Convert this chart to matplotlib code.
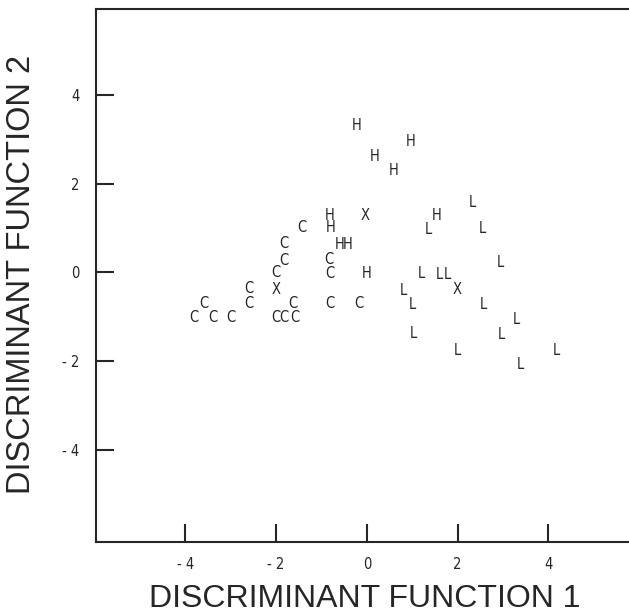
import matplotlib
matplotlib.use("Agg")
import matplotlib.pyplot as plt

# Data (discriminant function scores)
c_x = [-3.82, -3.60, -3.40, -3.00, -2.59, -2.59, -2.00, -1.82, -1.82, -1.43,
       -2.00, -1.82, -1.59, -1.62, -0.83, -0.81, -0.81, -0.18]
c_y = [-1.01, -0.69, -1.01, -1.01, -0.36, -0.69, 0.00, 0.27, 0.64, 1.00,
       -1.01, -1.01, -1.01, -0.71, 0.28, -0.03, -0.71, -0.71]

h_x = [-0.22, 0.96, 0.17, 0.60, -0.81, -0.79, -0.60, -0.42, -0.01, 1.53]
h_y = [3.30, 2.95, 2.62, 2.29, 1.27, 1.00, 0.62, 0.62, -0.03, 1.27]

l_x = [1.36, 2.33, 2.54, 2.94, 1.21, 1.60, 1.78, 0.80, 1.01, 2.57,
       3.29, 1.02, 2.96, 2.00, 4.18, 3.38]
l_y = [0.97, 1.58, 0.98, 0.23, -0.03, -0.04, -0.04, -0.41, -0.72, -0.73,
       -1.07, -1.37, -1.39, -1.75, -1.76, -2.08]

x_x = [-2.00, -0.04, 1.98]
x_y = [-0.38, 1.27, -0.38]

groups = [("C", c_x, c_y), ("H", h_x, h_y), ("L", l_x, l_y), ("X", x_x, x_y)]

x_ticks = [-4, -2, 0, 2, 4]
x_ticklabels = ["- 4", "- 2", "0", "2", "4"]
y_ticks = [-4, -2, 0, 2, 4]
y_ticklabels = ["- 4", "- 2", "0", "2", "4"]

ink = "#262626"
W, H = 629, 614

fig = plt.figure(figsize=(W/100, H/100), dpi=100)
ax = fig.add_axes([96/W, 72/H, (639-96)/W, (542-9)/H])
ax.set_xlim(-5.97, 6.0)
ax.set_ylim(-6.07, 5.93)

for label, xs, ys in groups:
    for x, y in zip(xs, ys):
        ax.text(x, y, label, ha="center", va="center", fontsize=10.5,
                family="DejaVu Sans", fontstretch="condensed",
                color=ink, fontweight="light")

for side in ["left", "bottom", "top"]:
    ax.spines[side].set_linewidth(1.5)
    ax.spines[side].set_color(ink)
ax.spines["right"].set_visible(False)

ax.set_xticks(x_ticks)
ax.set_xticklabels(x_ticklabels)
ax.set_yticks(y_ticks)
ax.set_yticklabels(y_ticklabels)
ax.tick_params(axis="both", direction="in", length=13, width=1.5, color=ink,
               labelsize=10.5, labelcolor=ink)
ax.tick_params(axis="x", pad=11)
ax.tick_params(axis="y", pad=12)
for t in ax.get_xticklabels() + ax.get_yticklabels():
    t.set_fontstretch("condensed")

fig.text(365/W, 1 - 607/H, "DISCRIMINANT FUNCTION 1", fontsize=23,
         family="Liberation Sans", color=ink, ha="center", va="baseline")
fig.text(22/W, 1 - 274/H, "DISCRIMINANT FUNCTION 2", fontsize=23.5,
         family="Liberation Sans", color=ink, ha="center", va="center",
         rotation=90)

fig.savefig("out.png", dpi=100)
